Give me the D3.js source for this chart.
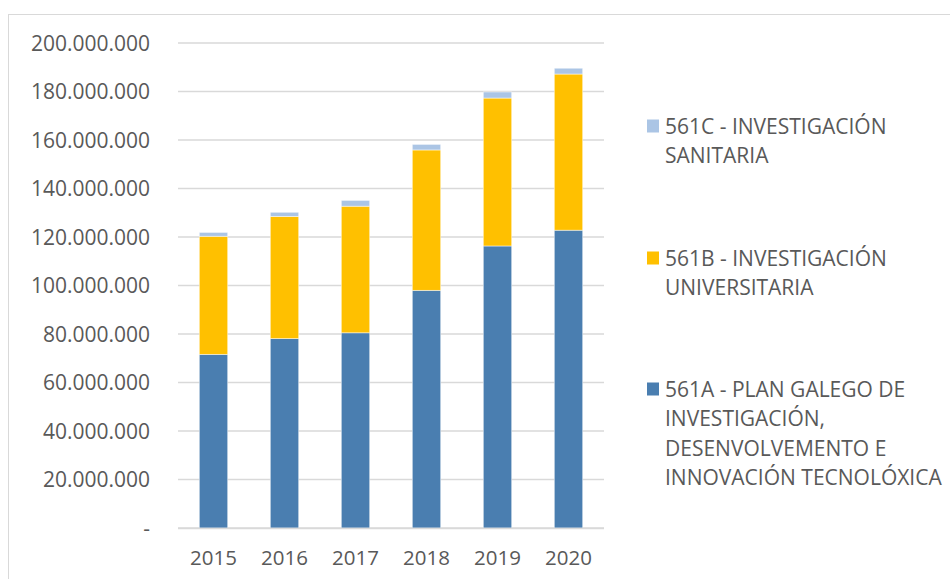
<!DOCTYPE html>
<html>
<head>
<meta charset="utf-8">
<script src="https://cdn.jsdelivr.net/npm/d3@7"></script>
<style>
  html, body { margin: 0; padding: 0; background: #fff; }
  svg { display: block; font-family: "Open Sans", sans-serif; }
</style>
</head>
<body>
<svg id="chart" width="950" height="579"></svg>
<script>
// values (euros)
const years = ['2015', '2016', '2017', '2018', '2019', '2020'];
const plan561A = [71600000, 78100000, 80500000, 98000000, 116300000, 122800000];
const univ561B = [48700000, 50400000, 52200000, 57900000, 61000000, 64400000];
const sanit561C = [1600000, 1700000, 2400000, 2300000, 2500000, 2400000];
const yTicks = [0, 20000000, 40000000, 60000000, 80000000, 100000000,
  120000000, 140000000, 160000000, 180000000, 200000000];

const seriesKeys = ['561A', '561B', '561C'];
const seriesColors = { '561A': '#4a7eb0', '561B': '#ffc000', '561C': '#abc5e5' };
const legendItems = [
  { key: '561C', lines: ['561C - INVESTIGACIÓN', 'SANITARIA'] },
  { key: '561B', lines: ['561B - INVESTIGACIÓN', 'UNIVERSITARIA'] },
  { key: '561A', lines: ['561A - PLAN GALEGO DE', 'INVESTIGACIÓN,', 'DESENVOLVEMENTO E', 'INNOVACIÓN TECNOLÓXICA'] }
];

const rows = years.map((y, i) => ({
  year: y, '561A': plan561A[i], '561B': univ561B[i], '561C': sanit561C[i]
}));

const svg = d3.select('#chart');
const textColor = '#595959';

// chart frame
svg.append('rect')
  .attr('x', 8.5).attr('y', 14.5)
  .attr('width', 980).attr('height', 620)
  .attr('fill', 'none')
  .attr('stroke', '#d9d9d9')
  .attr('stroke-width', 1);

const plot = { left: 178, right: 604, top: 43, bottom: 528 };

const x = d3.scaleBand()
  .domain(years)
  .range([plot.left, plot.right])
  .paddingInner(0.6)
  .paddingOuter(0.3);

const y = d3.scaleLinear()
  .domain([0, 200000000])
  .range([plot.bottom, plot.top]);

const locale = d3.formatLocale({ decimal: ',', thousands: '.', grouping: [3], currency: ['', ''] });
const fmt = locale.format(',.0f');

// gridlines
svg.append('g')
  .selectAll('line')
  .data(yTicks)
  .join('line')
  .attr('x1', plot.left).attr('x2', plot.right)
  .attr('y1', d => y(d)).attr('y2', d => y(d))
  .attr('stroke', '#d9d9d9')
  .attr('stroke-width', 1.5);

// y axis labels
svg.append('g')
  .selectAll('text')
  .data(yTicks)
  .join('text')
  .attr('x', 150)
  .attr('y', d => y(d))
  .attr('dy', '0.36em')
  .attr('text-anchor', 'end')
  .attr('fill', textColor)
  .style('font-size', '21px')
  .text(d => d === 0 ? '-' : fmt(d));

// stacked bars
const stacked = d3.stack().keys(seriesKeys)(rows);

svg.append('g')
  .selectAll('g')
  .data(stacked)
  .join('g')
  .attr('fill', d => seriesColors[d.key])
  .selectAll('rect')
  .data(d => d)
  .join('rect')
  .attr('x', d => x(d.data.year))
  .attr('width', x.bandwidth())
  .attr('y', d => y(d[1]))
  .attr('height', d => y(d[0]) - y(d[1]))
  .attr('stroke', '#ffffff')
  .attr('stroke-opacity', 0.6)
  .attr('stroke-width', 0.8);

// x axis line
svg.append('line')
  .attr('x1', plot.left).attr('x2', plot.right)
  .attr('y1', plot.bottom + 0.5).attr('y2', plot.bottom + 0.5)
  .attr('stroke', '#d9d9d9')
  .attr('stroke-width', 1.5);

// x labels
svg.append('g')
  .selectAll('text')
  .data(years)
  .join('text')
  .attr('x', d => x(d) + x.bandwidth() / 2)
  .attr('y', 565)
  .attr('text-anchor', 'middle')
  .attr('fill', textColor)
  .style('font-size', '20.5px')
  .text(d => d);

// legend
const legendTops = [126, 258, 389];
const lineGap = 29.6;

const legend = svg.append('g')
  .selectAll('g')
  .data(legendItems)
  .join('g')
  .attr('transform', (d, i) => `translate(647,${legendTops[i]})`);

legend.append('rect')
  .attr('x', 0).attr('y', -6.5)
  .attr('width', 12).attr('height', 13)
  .attr('fill', d => seriesColors[d.key]);

legend.selectAll('text')
  .data(d => d.lines)
  .join('text')
  .attr('x', 18)
  .attr('y', (d, i) => i * lineGap)
  .attr('dy', '0.36em')
  .attr('fill', textColor)
  .style('font-size', '21px')
  .text(d => d);
</script>
</body>
</html>
